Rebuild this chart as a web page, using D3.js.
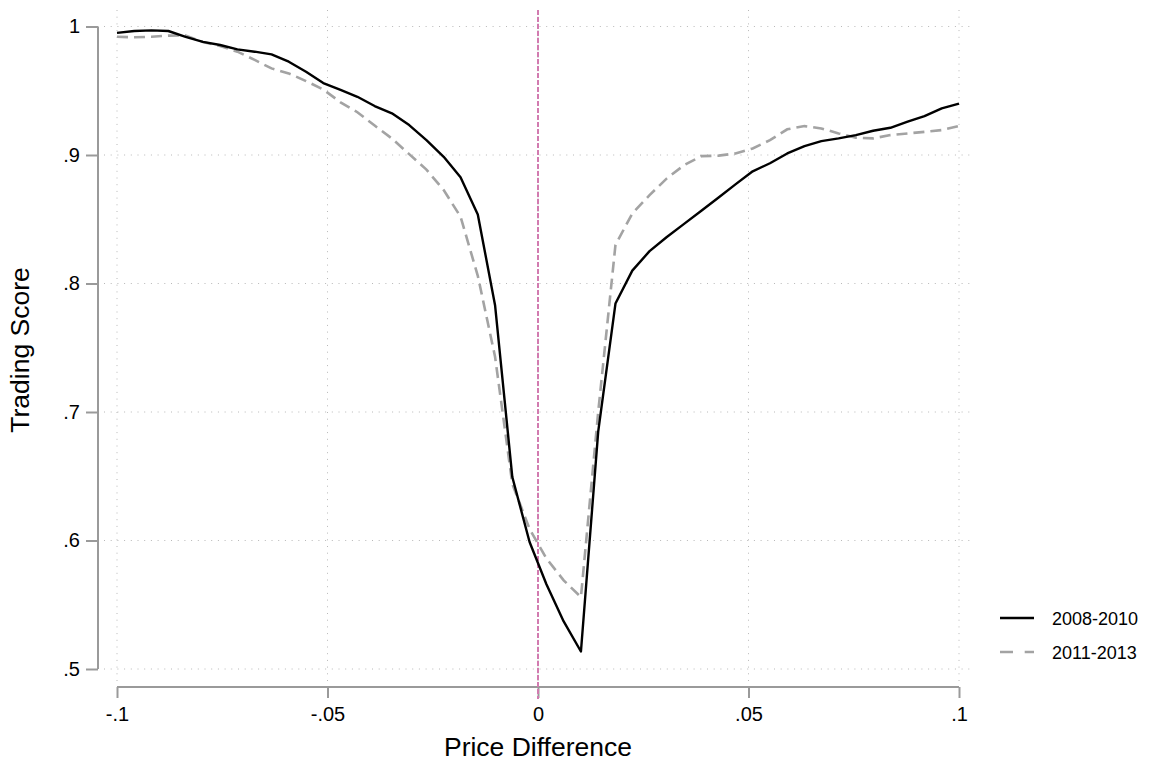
<!DOCTYPE html>
<html>
<head>
<meta charset="utf-8">
<script src="https://cdn.jsdelivr.net/npm/d3@7"></script>
<style>
  html, body { margin: 0; padding: 0; background: #fff; }
  svg { display: block; font-family: "Liberation Sans", Arial, sans-serif; }
</style>
</head>
<body>
<svg id="chart" width="1165" height="763"></svg>
<script>
// price difference grid (50 points)
var priceDiff = [-0.1, -0.0959, -0.0918, -0.0878, -0.0837, -0.0796, -0.0755, -0.0714, -0.0673, -0.0633,
    -0.0592, -0.0551, -0.0510, -0.0469, -0.0429, -0.0388, -0.0347, -0.0306, -0.0265, -0.0224,
    -0.0184, -0.0143, -0.0102, -0.0061, -0.0020, 0.0020, 0.0061, 0.0102, 0.0143, 0.0184,
    0.0224, 0.0265, 0.0306, 0.0347, 0.0388, 0.0429, 0.0469, 0.0510, 0.0551, 0.0592,
    0.0633, 0.0673, 0.0714, 0.0755, 0.0796, 0.0837, 0.0878, 0.0918, 0.0959, 0.1];

var score0810 = [0.995, 0.9965, 0.997, 0.9965, 0.992, 0.988, 0.9856, 0.9822, 0.9804, 0.9783,
    0.9726, 0.9648, 0.956, 0.9506, 0.9453, 0.9381, 0.9324, 0.9233, 0.9116, 0.8986,
    0.8826, 0.8537, 0.7831, 0.6494, 0.5988, 0.566, 0.537, 0.5136, 0.6847, 0.7844,
    0.810, 0.8252, 0.8362, 0.8464, 0.8566, 0.8669, 0.8771, 0.8873, 0.8936, 0.9012,
    0.9069, 0.9108, 0.9129, 0.9155, 0.9189, 0.9212, 0.9259, 0.9303, 0.9363, 0.940];

var score1113 = [0.992, 0.9916, 0.992, 0.9929, 0.993, 0.988, 0.9848, 0.9804, 0.974, 0.9674,
    0.9635, 0.9575, 0.951, 0.941, 0.9333, 0.9229, 0.9128, 0.9007, 0.8886, 0.8727,
    0.852, 0.806, 0.743, 0.644, 0.609, 0.586, 0.569, 0.556, 0.700, 0.830,
    0.8545, 0.8688, 0.8818, 0.8921, 0.8991, 0.8995, 0.9012, 0.9051, 0.9116, 0.920,
    0.9225, 0.9207, 0.9168, 0.9135, 0.9129, 0.9155, 0.9168, 0.918, 0.9194, 0.9225];

var xTicks = [-0.1, -0.05, 0, 0.05, 0.1];
var xTickLabels = ["-.1", "-.05", "0", ".05", ".1"];
var yTicks = [0.5, 0.6, 0.7, 0.8, 0.9, 1];
var yTickLabels = [".5", ".6", ".7", ".8", ".9", "1"];
var seriesNames = ["2008-2010", "2011-2013"];

var svg = d3.select("#chart");

var x = d3.scaleLinear().domain([-0.1, 0.1]).range([117, 959]);
var y = d3.scaleLinear().domain([0.5, 1]).range([669, 26.5]);

// plot region edges (stata pads a bit past the data)
var plotLeft = 104, plotRight = 973, plotTop = 10, plotBottom = 683;

// grid
var grid = svg.append("g").attr("class", "grid");
grid.selectAll(".hgrid").data(yTicks).enter().append("line")
    .attr("x1", plotLeft).attr("x2", plotRight)
    .attr("y1", function(d) { return y(d); }).attr("y2", function(d) { return y(d); })
    .attr("stroke", "#b8b8b8").attr("stroke-width", 1).attr("stroke-dasharray", "1,5.7");
grid.selectAll(".vgrid").data(xTicks).enter().append("line")
    .attr("y1", plotTop).attr("y2", plotBottom)
    .attr("x1", function(d) { return x(d); }).attr("x2", function(d) { return x(d); })
    .attr("stroke", "#b8b8b8").attr("stroke-width", 1).attr("stroke-dasharray", "1,5.7");

// axes
var yAxis = d3.axisLeft(y).tickValues(yTicks)
    .tickFormat(function(d, i) { return yTickLabels[i]; })
    .tickSize(12).tickPadding(6);
var gy = svg.append("g").attr("transform", "translate(98,0)").call(yAxis);
gy.select(".domain").attr("d", "M0," + y(1) + "V" + y(0.5));

var xAxis = d3.axisBottom(x).tickValues(xTicks)
    .tickFormat(function(d, i) { return xTickLabels[i]; })
    .tickSize(11).tickPadding(9);
var gx = svg.append("g").attr("transform", "translate(0,687)").call(xAxis);
gx.select(".domain").attr("d", "M" + x(-0.1) + ",0H" + x(0.1));

[gx, gy].forEach(function(g) {
    g.select(".domain").attr("stroke", "#9a9a9a").attr("stroke-width", 2).attr("fill", "none");
    g.selectAll(".tick line").attr("stroke", "#9a9a9a").attr("stroke-width", 2);
    g.selectAll(".tick text").attr("fill", "#000").style("font-size", "20px")
        .style("font-family", "'Liberation Sans', Arial, sans-serif");
});

// zero reference line
svg.append("line")
    .attr("x1", x(0)).attr("x2", x(0))
    .attr("y1", plotTop).attr("y2", 699)
    .attr("stroke", "#d27bb0").attr("stroke-width", 2).attr("stroke-dasharray", "5,2");

// series
var scoreLine = d3.line()
    .x(function(d, i) { return x(priceDiff[i]); })
    .y(function(d) { return y(d); });

svg.append("path").datum(score1113)
    .attr("d", scoreLine)
    .attr("fill", "none").attr("stroke", "#a3a3a3").attr("stroke-width", 2.6)
    .attr("stroke-dasharray", "11,6");

svg.append("path").datum(score0810)
    .attr("d", scoreLine)
    .attr("fill", "none").attr("stroke", "#000").attr("stroke-width", 2.4)
    .attr("stroke-linejoin", "round");

// axis titles
svg.append("text").attr("x", x(0)).attr("y", 756).attr("text-anchor", "middle")
    .style("font-size", "26.5px").text("Price Difference");
svg.append("text").attr("transform", "translate(29,350) rotate(-90)").attr("text-anchor", "middle")
    .style("font-size", "26.5px").text("Trading Score");

// legend
var legend = svg.append("g").attr("transform", "translate(1000,0)");
var legendY = [618, 652];
legend.selectAll(".lg-line").data(seriesNames).enter().append("line")
    .attr("x1", 0).attr("x2", 34)
    .attr("y1", function(d, i) { return legendY[i]; }).attr("y2", function(d, i) { return legendY[i]; })
    .attr("stroke", function(d, i) { return i == 0 ? "#000" : "#a3a3a3"; })
    .attr("stroke-width", function(d, i) { return i == 0 ? 2.4 : 2.6; })
    .attr("stroke-dasharray", function(d, i) { return i == 0 ? null : "13,11.7"; });
legend.selectAll(".lg-text").data(seriesNames).enter().append("text")
    .attr("x", 52).attr("y", function(d, i) { return legendY[i] + 6.5; })
    .style("font-size", "18px").text(function(d) { return d; });
</script>
</body>
</html>
